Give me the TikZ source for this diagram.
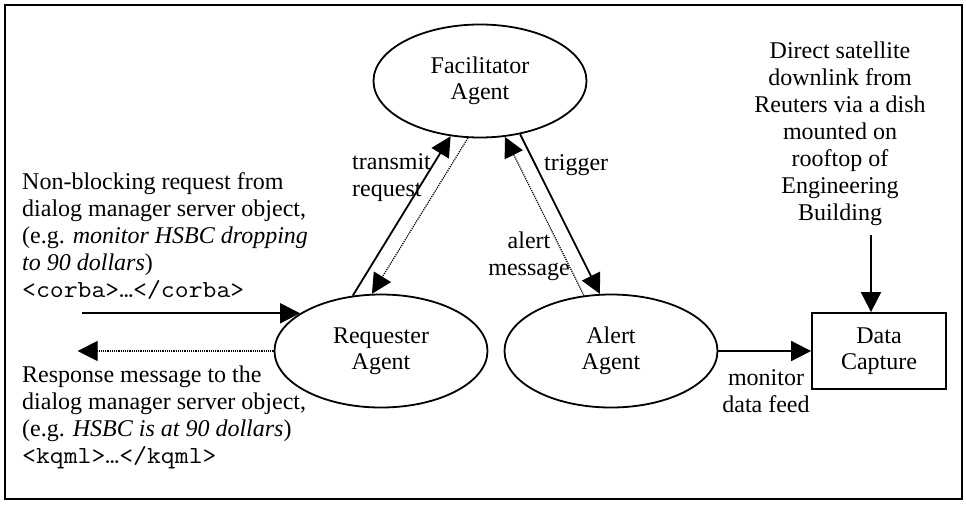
\documentclass[tikz,border=0pt]{standalone}
\usepackage{fontspec}
\setmainfont{Liberation Serif}
\newfontfamily\codefont[FakeStretch=1.1]{Latin Modern Mono}
\usetikzlibrary{shapes.geometric,arrows.meta}
\newcommand{\txtfont}{\fontsize{24}{27}\selectfont}
\newcommand{\code}[1]{{\codefont\fontsize{24.5}{27}\selectfont #1}}
\begin{document}
\begin{tikzpicture}[x=1pt,y=-1pt,
  agent/.style={ellipse,draw,line width=1.8pt,minimum width=213pt,minimum height=113pt,align=center,font=\fontsize{24}{26}\selectfont,inner sep=0pt},
  boxnode/.style={rectangle,draw,line width=1.8pt,minimum width=134pt,minimum height=76pt,align=center,font=\fontsize{24}{26}\selectfont},
  lbl/.style={font=\txtfont,inner sep=0pt},
  arr/.style={-{Triangle[length=20pt,width=20pt]},line width=1.8pt},
  dotarr/.style={-{Triangle[length=20pt,width=20pt]},line width=1.2pt,densely dotted}]
\useasboundingbox (0,0) rectangle (966,504);
\draw[line width=2pt] (5,5) rectangle (962,499);
\node[agent] (fac) at (480,81) {Facilitator\\Agent};
\node[agent] (req) at (381,351) {Requester\\Agent};
\node[agent] (alert) at (611,351) {Alert\\Agent};
\node[boxnode] (dc) at (879,351) {Data\\Capture};
% left texts
\node[lbl,anchor=north west,align=left] (reqtxt) at (22,172) {Non-blocking request from\\dialog manager server object,\\(e.g. \textit{monitor HSBC dropping}\\\textit{to 90 dollars})\\\code{<corba>…</corba>}};
\node[lbl,anchor=north west,align=left] (resptxt) at (22,366) {Response message to the\\dialog manager server object,\\(e.g. \textit{HSBC is at 90 dollars})\\\code{<kqml>…</kqml>}};
\node[lbl,align=center] (sattxt) at (840,134) {Direct satellite\\downlink from\\Reuters via a dish\\mounted on\\rooftop of\\Engineering\\Building};
% connectors
\coordinate (inL) at ([xshift=-218pt]req.155);
\draw[arr] (inL) -- (req.155);
\coordinate (outL) at ([xshift=-196pt]req.west);
\draw[dotarr] (req.west) -- (outL);
\draw[arr] (req.117) -- (fac.242);
\draw[dotarr] (fac.258) -- (req.99);
\draw[arr] (fac.307) -- (alert.101);
\draw[dotarr] (alert.116) -- (fac.294);
\draw[arr] (alert.east) -- (dc.west);
\coordinate (satS) at (871,235);
\draw[arr] (satS) -- (satS |- dc.north);
% labels
\node[lbl,anchor=west,align=left] (ltrans) at (352,178) {transmit\\request};
\node[lbl,anchor=west] (ltrig) at (544,165) {trigger};
\node[lbl,align=center] (lalert) at (529,256) {alert\\message};
\node[lbl,align=center] (lmon) at (766,391) {monitor\\data feed};
\end{tikzpicture}
\end{document}
